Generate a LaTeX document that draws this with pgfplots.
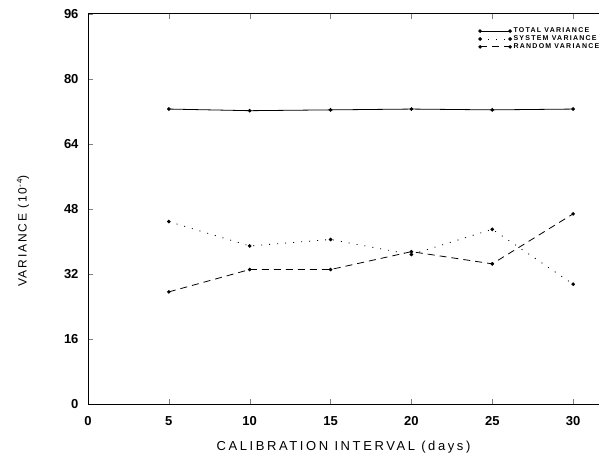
\documentclass[border=0pt]{standalone}
\usepackage{fontspec}
\setmainfont{Liberation Sans}
\usepackage{pgfplots}
\pgfplotsset{compat=1.18}
\usetikzlibrary{calc}

\begin{document}
\begin{tikzpicture}
\begin{axis}[
    width=511pt, height=390pt, scale only axis,
    xmin=0, xmax=31.6, ymin=0, ymax=96,
    axis y line*=left,
    xtick={0,5,...,30}, ytick={0,16,...,96},
    tick align=inside, major tick length=5pt,
    tick label style={font=\fontsize{13}{14}\selectfont\bfseries},
    /pgf/number format/assume math mode=true,
    xticklabel style={yshift=-9pt},
    yticklabel style={xshift=-6pt},
    xlabel={\addfontfeature{LetterSpace=20}CALIBRATION INTERVAL (days)},
    ylabel={\addfontfeature{LetterSpace=15}VARIANCE (10\textsuperscript{-4})},
    xlabel style={font=\fontsize{13}{14}\selectfont, yshift=-8pt},
    ylabel style={font=\fontsize{12}{13}\selectfont, yshift=28pt, xshift=-22pt},
    axis line style={line width=1pt},
    cycle list={{black},{black},{black}},
    every axis plot/.append style={black, line width=0.8pt, mark=*, mark size=1.4pt, mark options={solid}},
    legend style={at={(rel axis cs:1.005,0.97)}, anchor=north east, draw=none, fill=none,
        font=\fontsize{7}{7}\selectfont\bfseries\addfontfeature{LetterSpace=18}, row sep=-2.5pt, inner sep=0pt},
    legend image code/.code={\draw[#1, mark repeat=1] plot coordinates {(0pt,0pt) (30pt,0pt)};},
    legend cell align=left,
]
\coordinate (sw) at (rel axis cs:0,0);
\coordinate (ne) at (rel axis cs:1,1);
\addplot coordinates {(5,72.6) (10,72.2) (15,72.4) (20,72.6) (25,72.4) (30,72.6)};
\addlegendentry{TOTAL VARIANCE}
\addplot[dash pattern=on 1pt off 7pt] coordinates {(5,44.9) (10,38.9) (15,40.5) (20,36.8) (25,43.0) (30,29.5)};
\addlegendentry{SYSTEM VARIANCE}
\addplot[dash pattern=on 7pt off 5pt] coordinates {(5,27.6) (10,33.1) (15,33.1) (20,37.5) (25,34.5) (30,46.8)};
\addlegendentry{RANDOM VARIANCE}
\end{axis}
\pgfresetboundingbox
\path[use as bounding box] ($(sw)+(-88pt,-54pt)$) rectangle ($(ne)+(0pt,14pt)$);
\end{tikzpicture}
\end{document}
